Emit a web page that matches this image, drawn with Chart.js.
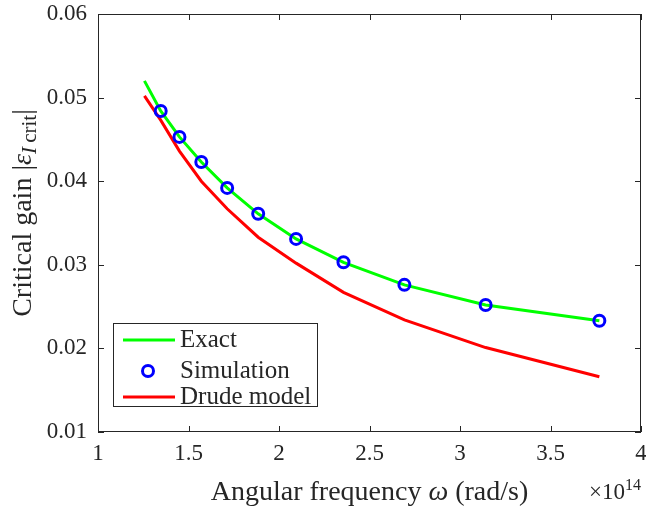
<!DOCTYPE html>
<html lang="en">
<head>
<meta charset="UTF-8" />
<title>Critical gain vs angular frequency</title>
<script src="https://cdn.jsdelivr.net/npm/chart.js@4.4.1/dist/chart.umd.min.js"></script>
<style>
  html, body { margin: 0; padding: 0; background: #fff; }
  #wrap { width: 646px; height: 510px; }
</style>
</head>
<body>
<div id="wrap"><canvas id="gainChart" width="646" height="510"></canvas></div>
<script>
// angular frequency in units of 1e14 rad/s
const omega = [1.2566, 1.3464, 1.4500, 1.5708, 1.7136, 1.8850, 2.0944, 2.3562, 2.6928, 3.1416, 3.7699];
const exactGain = [0.0520, 0.0484, 0.0453, 0.0423, 0.0392, 0.0361, 0.0331, 0.0303, 0.0276, 0.0252, 0.0233];
const drudeGain = [0.0502, 0.0473, 0.0436, 0.0400, 0.0367, 0.0333, 0.0302, 0.0267, 0.0234, 0.0201, 0.0166];

// simulated points
const simOmega = [1.3464, 1.4500, 1.5708, 1.7136, 1.8850, 2.0944, 2.3562, 2.6928, 3.1416, 3.7699];
const simGain = [0.0484, 0.0453, 0.0423, 0.0392, 0.0361, 0.0331, 0.0303, 0.0276, 0.0252, 0.0233];

const xTicks = [1, 1.5, 2, 2.5, 3, 3.5, 4];
const xTickLabels = ['1', '1.5', '2', '2.5', '3', '3.5', '4'];
const yTicks = [0.01, 0.02, 0.03, 0.04, 0.05, 0.06];
const yTickLabels = ['0.01', '0.02', '0.03', '0.04', '0.05', '0.06'];

const axisColor = '#262626';
const serif = '"Liberation Serif", "DejaVu Serif", serif';

function pts(xs, ys) {
  return xs.map((v, i) => ({ x: v, y: ys[i] }));
}

// draws text pieces [text, font, dy] one after another, starting at x
function drawRuns(ctx, runs, x, y) {
  runs.forEach(r => {
    ctx.font = r[1];
    ctx.fillText(r[0], x, y + (r[2] || 0));
    x += ctx.measureText(r[0]).width;
  });
}
function runsWidth(ctx, runs) {
  let w = 0;
  runs.forEach(r => { ctx.font = r[1]; w += ctx.measureText(r[0]).width; });
  return w;
}

const framePlugin = {
  id: 'frame',
  beforeDatasetsDraw(chart) {
    const { ctx, chartArea: a, scales: { x, y } } = chart;
    ctx.save();
    ctx.strokeStyle = axisColor;
    ctx.lineWidth = 1;
    ctx.strokeRect(a.left + 0.5, a.top + 0.5, a.right - a.left - 1, a.bottom - a.top - 1);
    ctx.beginPath();
    xTicks.forEach(v => {
      const px = Math.round(x.getPixelForValue(v)) + 0.5;
      ctx.moveTo(px, a.bottom); ctx.lineTo(px, a.bottom - 6);
      ctx.moveTo(px, a.top); ctx.lineTo(px, a.top + 6);
    });
    yTicks.forEach(v => {
      const py = Math.round(y.getPixelForValue(v)) + 0.5;
      ctx.moveTo(a.left, py); ctx.lineTo(a.left + 6, py);
      ctx.moveTo(a.right, py); ctx.lineTo(a.right - 6, py);
    });
    ctx.stroke();
    ctx.restore();
  },
  afterDraw(chart) {
    const { ctx, chartArea: a } = chart;
    ctx.save();
    ctx.fillStyle = axisColor;
    ctx.textBaseline = 'alphabetic';
    ctx.textAlign = 'left';

    // x axis title
    const xRuns = [
      ['Angular frequency ', '28px ' + serif],
      ['\u03C9', 'italic 28px ' + serif],
      [' (rad/s)', '28px ' + serif]
    ];
    const cx = (a.left + a.right) / 2;
    drawRuns(ctx, xRuns, cx - runsWidth(ctx, xRuns) / 2, 500);

    // exponent
    const expRuns = [['\u00D710', '23px ' + serif], ['14', '16px ' + serif, -9]];
    drawRuns(ctx, expRuns, a.right - runsWidth(ctx, expRuns), 499);

    // y axis title
    const yRuns = [
      ['Critical gain ', '28px ' + serif],
      ['|', '28px ' + serif],
      ['\u03B5', 'italic 28px ' + serif],
      ['I', 'italic 21px ' + serif, 5],
      ['\u2009crit', '21px ' + serif, 5],
      ['|', '28px ' + serif]
    ];
    const cy = 213;
    ctx.translate(31, cy);
    ctx.rotate(-Math.PI / 2);
    drawRuns(ctx, yRuns, -runsWidth(ctx, yRuns) / 2, 0);
    ctx.restore();

    // legend
    ctx.save();
    const box = { l: 113.5, t: 323.5, r: 317.5, b: 406.5 };
    ctx.fillStyle = '#fff';
    ctx.fillRect(box.l, box.t, box.r - box.l, box.b - box.t);
    ctx.strokeStyle = axisColor;
    ctx.lineWidth = 1;
    ctx.strokeRect(box.l, box.t, box.r - box.l, box.b - box.t);
    const rows = [340, 371, 397];
    chart.data.datasets.forEach((ds, i) => {
      const yy = rows[i];
      if (ds.showLine === false) {
        ctx.beginPath();
        ctx.arc(148, yy, ds.pointRadius, 0, Math.PI * 2);
        ctx.strokeStyle = ds.borderColor;
        ctx.lineWidth = ds.pointBorderWidth;
        ctx.stroke();
      } else {
        ctx.beginPath();
        ctx.moveTo(123, yy); ctx.lineTo(175, yy);
        ctx.strokeStyle = ds.borderColor;
        ctx.lineWidth = ds.borderWidth;
        ctx.stroke();
      }
      ctx.fillStyle = axisColor;
      ctx.font = '25px ' + serif;
      ctx.textBaseline = 'middle';
      ctx.fillText(ds.label, 180, yy);
    });
    ctx.restore();
  }
};

new Chart(document.getElementById('gainChart'), {
  type: 'line',
  data: {
    datasets: [
      {
        label: 'Exact',
        data: pts(omega, exactGain),
        borderColor: '#00ff00',
        borderWidth: 3,
        pointRadius: 0,
        tension: 0,
        order: 1
      },
      {
        label: 'Simulation',
        data: pts(simOmega, simGain),
        showLine: false,
        borderColor: '#0000ff',
        backgroundColor: 'rgba(0,0,0,0)',
        pointStyle: 'circle',
        pointRadius: 5.5,
        pointBorderWidth: 3,
        order: 0
      },
      {
        label: 'Drude model',
        data: pts(omega, drudeGain),
        borderColor: '#ff0000',
        borderWidth: 3,
        pointRadius: 0,
        tension: 0,
        order: 2
      }
    ]
  },
  options: {
    responsive: false,
    devicePixelRatio: 1,
    animation: false,
    layout: { autoPadding: false, padding: { left: 0, top: 14, right: 5, bottom: 0 } },
    plugins: {
      legend: { display: false },
      tooltip: { enabled: false }
    },
    scales: {
      x: {
        type: 'linear',
        min: 1,
        max: 4,
        grid: { display: false, drawTicks: false },
        border: { display: false },
        afterFit: s => { s.height = 78; s.paddingLeft = 0; s.paddingRight = 0; },
        afterBuildTicks: s => { s.ticks = xTicks.map(v => ({ value: v })); },
        ticks: {
          padding: 8,
          color: axisColor,
          font: { family: serif, size: 23 },
          maxRotation: 0,
          autoSkip: false,
          callback: (v, i) => xTickLabels[i]
        }
      },
      y: {
        type: 'linear',
        min: 0.01,
        max: 0.06,
        grid: { display: false, drawTicks: false },
        border: { display: false },
        afterFit: s => { s.width = 98; s.paddingTop = 0; s.paddingBottom = 0; },
        afterBuildTicks: s => { s.ticks = yTicks.map(v => ({ value: v })); },
        ticks: {
          padding: 11,
          color: axisColor,
          font: { family: serif, size: 23 },
          autoSkip: false,
          callback: (v, i) => yTickLabels[i]
        }
      }
    }
  },
  plugins: [framePlugin]
});
</script>
</body>
</html>
